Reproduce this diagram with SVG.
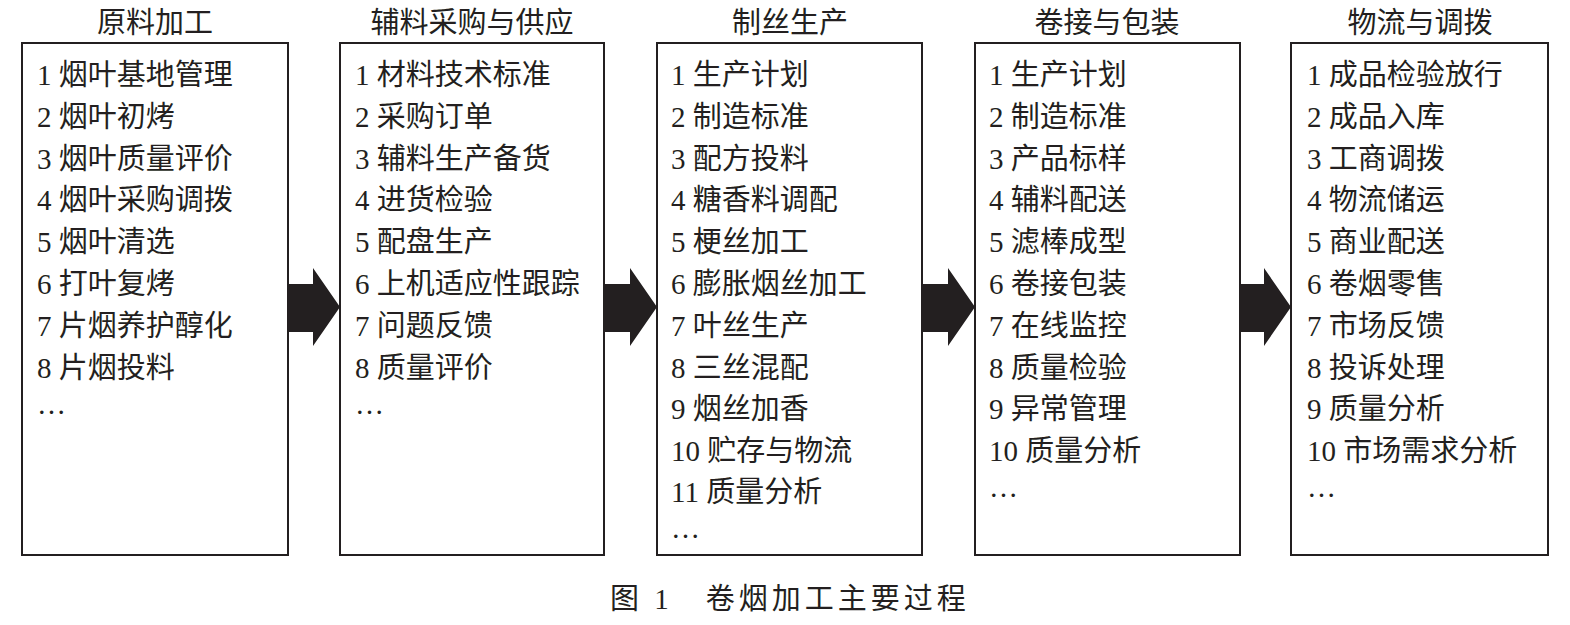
<svg xmlns="http://www.w3.org/2000/svg" width="1570" height="625" viewBox="0 0 1570 625">
<style>
.box{fill:#fff;stroke:#231f20;stroke-width:2}
text{font-family:"Liberation Serif","Noto Sans CJK SC",serif;fill:#231f20}
.t{font-size:29px;text-anchor:middle}
.i{font-size:29px}
.arr{fill:#231f20}
</style>
<rect width="1570" height="625" fill="#fff"/>
<g id="n1"><rect class="box" x="22" y="43" width="266" height="512"/><text class="t" x="155" y="33">原料加工</text>
<text class="i" x="37" y="85">1 烟叶基地管理</text><text class="i" x="37" y="127">2 烟叶初烤</text><text class="i" x="37" y="169">3 烟叶质量评价</text><text class="i" x="37" y="210">4 烟叶采购调拨</text><text class="i" x="37" y="252">5 烟叶清选</text><text class="i" x="37" y="294">6 打叶复烤</text><text class="i" x="37" y="336">7 片烟养护醇化</text><text class="i" x="37" y="378">8 片烟投料</text><text class="i" x="37" y="414">…</text></g>
<g id="n2"><rect class="box" x="340" y="43" width="264" height="512"/><text class="t" x="472" y="33">辅料采购与供应</text>
<text class="i" x="355" y="85">1 材料技术标准</text><text class="i" x="355" y="127">2 采购订单</text><text class="i" x="355" y="169">3 辅料生产备货</text><text class="i" x="355" y="210">4 进货检验</text><text class="i" x="355" y="252">5 配盘生产</text><text class="i" x="355" y="294">6 上机适应性跟踪</text><text class="i" x="355" y="336">7 问题反馈</text><text class="i" x="355" y="378">8 质量评价</text><text class="i" x="355" y="414">…</text></g>
<g id="n3"><rect class="box" x="657" y="43" width="265" height="512"/><text class="t" x="790" y="33">制丝生产</text>
<text class="i" x="671" y="85">1 生产计划</text><text class="i" x="671" y="127">2 制造标准</text><text class="i" x="671" y="169">3 配方投料</text><text class="i" x="671" y="210">4 糖香料调配</text><text class="i" x="671" y="252">5 梗丝加工</text><text class="i" x="671" y="294">6 膨胀烟丝加工</text><text class="i" x="671" y="336">7 叶丝生产</text><text class="i" x="671" y="378">8 三丝混配</text><text class="i" x="671" y="419">9 烟丝加香</text><text class="i" x="671" y="461">10 贮存与物流</text><text class="i" x="671" y="502">11 质量分析</text><text class="i" x="671" y="538">…</text></g>
<g id="n4"><rect class="box" x="975" y="43" width="265" height="512"/><text class="t" x="1107" y="33">卷接与包装</text>
<text class="i" x="989" y="85">1 生产计划</text><text class="i" x="989" y="127">2 制造标准</text><text class="i" x="989" y="169">3 产品标样</text><text class="i" x="989" y="210">4 辅料配送</text><text class="i" x="989" y="252">5 滤棒成型</text><text class="i" x="989" y="294">6 卷接包装</text><text class="i" x="989" y="336">7 在线监控</text><text class="i" x="989" y="378">8 质量检验</text><text class="i" x="989" y="419">9 异常管理</text><text class="i" x="989" y="461">10 质量分析</text><text class="i" x="989" y="497">…</text></g>
<g id="n5"><rect class="box" x="1291" y="43" width="257" height="512"/><text class="t" x="1420" y="33">物流与调拨</text>
<text class="i" x="1307" y="85">1 成品检验放行</text><text class="i" x="1307" y="127">2 成品入库</text><text class="i" x="1307" y="169">3 工商调拨</text><text class="i" x="1307" y="210">4 物流储运</text><text class="i" x="1307" y="252">5 商业配送</text><text class="i" x="1307" y="294">6 卷烟零售</text><text class="i" x="1307" y="336">7 市场反馈</text><text class="i" x="1307" y="378">8 投诉处理</text><text class="i" x="1307" y="419">9 质量分析</text><text class="i" x="1307" y="461">10 市场需求分析</text><text class="i" x="1307" y="497">…</text></g>
<g id="connectors">
<polygon class="arr" points="288,284 313,284 313,268 340,307 313,346 313,332 288,332"/>
<polygon class="arr" points="604,284 630,284 630,268 657,307 630,346 630,332 604,332"/>
<polygon class="arr" points="922,284 948,284 948,268 975,307 948,346 948,332 922,332"/>
<polygon class="arr" points="1240,284 1264,284 1264,268 1291,307 1264,346 1264,332 1240,332"/>
</g>
<text x="790" y="609" style="font-size:29px;text-anchor:middle;letter-spacing:4px">图 1　卷烟加工主要过程</text>
</svg>
